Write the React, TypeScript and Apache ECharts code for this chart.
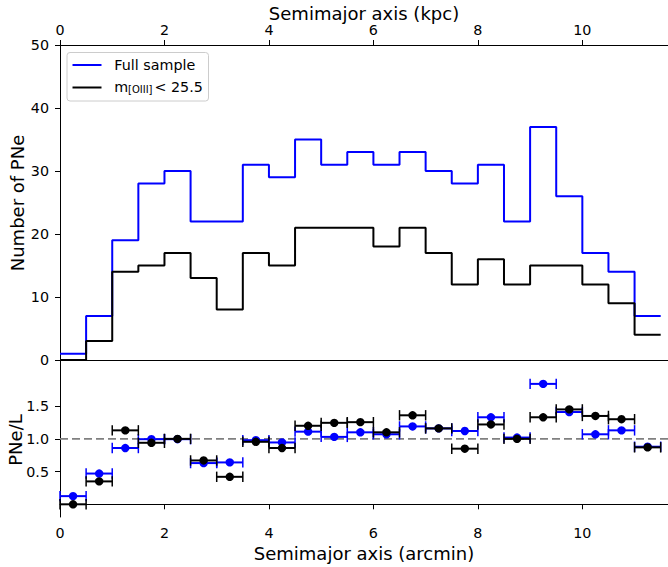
import React, { useEffect, useRef } from "react";
import * as echarts from "echarts";

// Radial bins along the semimajor axis (arcmin)
const binEdges = [0, 0.5, 1, 1.5, 2, 2.5, 3, 3.5, 4, 4.5, 5, 5.5, 6, 6.5, 7, 7.5, 8, 8.5, 9, 9.5, 10, 10.5, 11, 11.5];
const binCenters = [0.25, 0.75, 1.25, 1.75, 2.25, 2.75, 3.25, 3.75, 4.25, 4.75, 5.25, 5.75, 6.25, 6.75, 7.25, 7.75, 8.25, 8.75, 9.25, 9.75, 10.25, 10.75, 11.25];
const binHalfWidth = 0.25;

// PN counts per bin
const fullCounts = [1, 7, 19, 28, 30, 22, 22, 31, 29, 35, 31, 33, 31, 33, 30, 28, 31, 22, 37, 26, 17, 14, 7];
const brightCounts = [0, 3, 14, 15, 17, 13, 8, 17, 15, 21, 21, 21, 18, 21, 17, 12, 16, 12, 15, 15, 12, 9, 4];

// Normalised PN number per unit light
const fullRatio = [0.125, 0.47, 0.86, 0.995, 0.995, 0.63, 0.64, 0.98, 0.945, 1.11, 1.03, 1.1, 1.07, 1.19, 1.16, 1.12, 1.33, 1.02, 1.84, 1.41, 1.07, 1.13, 0.88];
const brightRatio = [0.0, 0.35, 1.13, 0.94, 1.0, 0.67, 0.42, 0.955, 0.86, 1.2, 1.245, 1.255, 1.1, 1.36, 1.16, 0.85, 1.22, 1.0, 1.33, 1.45, 1.35, 1.3, 0.87];

// Axis ticks
const arcminTicks = [0, 2, 4, 6, 8, 10];
const kpcTicks = [0, 2, 4, 6, 8, 10];
const ratioTicks = [0.5, 1.0, 1.5];
const referenceRatio = 1.0;

const X_MAX = 11.64;
const FONT = "DejaVu Sans";
const BLUE = "#0000ff";
const BLACK = "#000000";
const TITLE_FONT = `18px ${FONT}`;

function stepData(counts: number[]) {
  const pts = counts.map((c, i) => [binEdges[i], c]);
  pts.push([binEdges[counts.length], counts[counts.length - 1]]);
  return pts;
}

function errorBarSeries(values: number[], color: string, z: number) {
  return {
    type: "custom",
    xAxisIndex: 2,
    yAxisIndex: 1,
    z,
    encode: { x: 0, y: 1 },
    data: binCenters.map((c, i) => [c, values[i]]),
    renderItem: (_params: any, api: any) => {
      const x = api.value(0);
      const y = api.value(1);
      const p = api.coord([x, y]);
      const l = api.coord([x - binHalfWidth, y]);
      const r = api.coord([x + binHalfWidth, y]);
      const cap = 5.2;
      return {
        type: "group",
        children: [
          { type: "line", shape: { x1: l[0], y1: p[1], x2: r[0], y2: p[1] }, style: { stroke: color, lineWidth: 2 } },
          { type: "line", shape: { x1: l[0], y1: p[1] - cap, x2: l[0], y2: p[1] + cap }, style: { stroke: color, lineWidth: 1.5 } },
          { type: "line", shape: { x1: r[0], y1: p[1] - cap, x2: r[0], y2: p[1] + cap }, style: { stroke: color, lineWidth: 1.5 } },
          { type: "circle", shape: { cx: p[0], cy: p[1], r: 4.2 }, style: { fill: color } },
        ],
      };
    },
  };
}

const axisLine = { show: true, lineStyle: { color: BLACK, width: 1 } };
const tickStyle = { show: true, length: 5, lineStyle: { color: BLACK, width: 1 } };
const labelStyle = { fontFamily: FONT, fontSize: 14.3, color: BLACK };

export default function App() {
  const ref = useRef<HTMLDivElement>(null);

  useEffect(() => {
    if (!ref.current) return;
    const chart = echarts.init(ref.current, null, { renderer: "svg" });
    chart.setOption({
      animation: false,
      backgroundColor: "#ffffff",
      grid: [
        { left: 60, top: 45, width: 608, height: 315 },
        { left: 60, top: 360, width: 608, height: 157 },
      ],
      xAxis: [
        {
          gridIndex: 0, type: "value", position: "bottom", min: 0, max: X_MAX,
          axisLine, axisTick: { show: false }, axisLabel: { show: false }, splitLine: { show: false },
        },
        {
          gridIndex: 0, type: "value", position: "top", min: 0, max: X_MAX,
          axisLine,
          axisTick: { ...tickStyle, customValues: kpcTicks },
          axisLabel: { ...labelStyle, margin: 8, customValues: kpcTicks },
          splitLine: { show: false },
        },
        {
          gridIndex: 1, type: "value", position: "bottom", min: 0, max: X_MAX,
          axisLine,
          axisTick: { ...tickStyle, customValues: arcminTicks },
          axisLabel: { ...labelStyle, margin: 9, customValues: arcminTicks },
          splitLine: { show: false },
        },
      ],
      yAxis: [
        {
          gridIndex: 0, type: "value", min: 0, max: 50, interval: 10,
          axisLine, axisTick: tickStyle,
          axisLabel: { ...labelStyle, margin: 11 },
          splitLine: { show: false },
        },
        {
          gridIndex: 1, type: "value", min: -0.194, max: 2.205,
          axisLine,
          axisTick: { ...tickStyle, customValues: ratioTicks },
          axisLabel: { ...labelStyle, margin: 11, customValues: ratioTicks, formatter: (v: number) => v.toFixed(1) },
          splitLine: { show: false },
        },
      ],
      series: [
        {
          type: "line", name: "Full sample", xAxisIndex: 0, yAxisIndex: 0, step: "end",
          data: stepData(fullCounts), showSymbol: false, z: 2,
          lineStyle: { color: BLUE, width: 2 },
        },
        {
          type: "line", name: "m[OIII] < 25.5", xAxisIndex: 0, yAxisIndex: 0, step: "end",
          data: stepData(brightCounts), showSymbol: false, z: 3,
          lineStyle: { color: BLACK, width: 2 },
        },
        {
          type: "line", xAxisIndex: 2, yAxisIndex: 1,
          data: [[0, referenceRatio], [X_MAX, referenceRatio]], showSymbol: false, z: 1,
          lineStyle: { color: "#808080", width: 1.6, type: [8, 4] },
        },
        errorBarSeries(fullRatio, BLUE, 4),
        errorBarSeries(brightRatio, BLACK, 5),
      ],
      graphic: [
        { type: "text", x: 364, y: 13, style: { text: "Semimajor axis (kpc)", font: TITLE_FONT, fill: BLACK, align: "center", verticalAlign: "middle" } },
        { type: "text", x: 364, y: 553, style: { text: "Semimajor axis (arcmin)", font: TITLE_FONT, fill: BLACK, align: "center", verticalAlign: "middle" } },
        { type: "text", x: 17.5, y: 203, rotation: Math.PI / 2, style: { text: "Number of PNe", font: TITLE_FONT, fill: BLACK, align: "center", verticalAlign: "middle" } },
        { type: "text", x: 15.5, y: 440, rotation: Math.PI / 2, style: { text: "PNe/L", font: TITLE_FONT, fill: BLACK, align: "center", verticalAlign: "middle" } },
        {
          type: "group",
          children: [
            { type: "rect", shape: { x: 67, y: 52.5, width: 141.5, height: 48.5, r: 3 }, style: { fill: "rgba(255,255,255,0.8)", stroke: "#cccccc", lineWidth: 1 } },
            { type: "line", shape: { x1: 72.5, y1: 65, x2: 101.5, y2: 65 }, style: { stroke: BLUE, lineWidth: 2 } },
            { type: "line", shape: { x1: 72.5, y1: 87.5, x2: 101.5, y2: 87.5 }, style: { stroke: BLACK, lineWidth: 2 } },
            { type: "text", x: 114.3, y: 65, style: { text: "Full sample", font: `14.3px ${FONT}`, fill: BLACK, verticalAlign: "middle" } },
            { type: "text", x: 114.3, y: 87, style: { text: "m", font: `14.3px ${FONT}`, fill: BLACK, verticalAlign: "middle" } },
            { type: "text", x: 128, y: 89.5, style: { text: "[OIII]", font: `10px ${FONT}`, fill: BLACK, verticalAlign: "middle" } },
            { type: "text", x: 154.5, y: 87, style: { text: "< 25.5", font: `14.3px ${FONT}`, fill: BLACK, verticalAlign: "middle" } },
          ],
        },
      ],
    });
    return () => chart.dispose();
  }, []);

  return <div ref={ref} style={{ position: "fixed", left: 0, top: 0, width: 668, height: 567 }} />;
}
